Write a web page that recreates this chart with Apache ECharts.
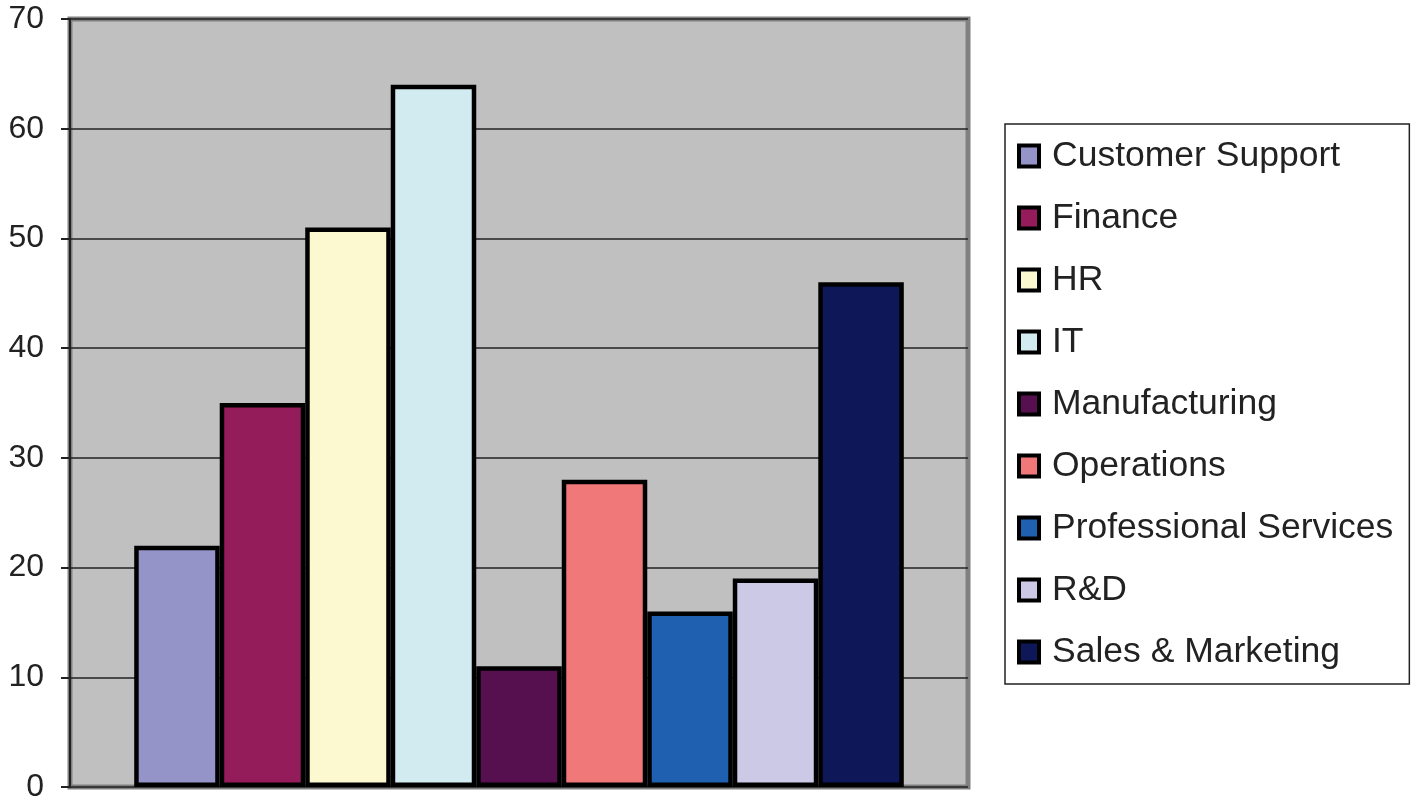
<!DOCTYPE html>
<html>
<head>
<meta charset="utf-8">
<script src="https://cdn.jsdelivr.net/npm/echarts@6/dist/echarts.min.js"></script>
<style>
  html, body { margin: 0; padding: 0; background: #fff; }
  #chartContainer { width: 1412px; height: 803px; }
</style>
</head>
<body>
<div id="chartContainer"></div>
<script>
var DEPARTMENTS = ['Customer Support', 'Finance', 'HR', 'IT', 'Manufacturing',
  'Operations', 'Professional Services', 'R&D', 'Sales & Marketing'];
var COUNTS = [22, 35, 51, 64, 11, 28, 16, 19, 46];
var COLORS = ['#9494C8', '#951C5A', '#FCF8D0', '#D2EBF0', '#561050',
  '#F07878', '#1F60B0', '#CCC9E6', '#0E1859'];
var Y_TICKS = { min: 0, max: 70, interval: 10 };

var FONT = '"Liberation Sans", Arial, sans-serif';

var CHART;
var CHART_OPTION = {
  animation: false,
  backgroundColor: '#ffffff',
  grid: {
    left: 70,
    top: 19,
    right: 444,
    bottom: 14,
    show: true,
    backgroundColor: '#C0C0C0',
    borderColor: '#808080',
    borderWidth: 5
  },
  legend: {
    orient: 'vertical',
    left: 1005,
    top: 124,
    padding: [14, 16, 14, 12],
    borderColor: '#222',
    borderWidth: 1.5,
    backgroundColor: '#fff',
    itemWidth: 20,
    itemHeight: 21,
    itemGap: 26,
    icon: 'rect',
    itemStyle: { borderColor: '#000', borderWidth: 4 },
    textStyle: {
      fontFamily: FONT,
      fontSize: 35.5,
      lineHeight: 36,
      color: '#222',
      padding: [0, 0, 0, 8]
    },
    data: DEPARTMENTS
  },
  xAxis: {
    type: 'category',
    data: [''],
    axisLine: { show: false },
    axisTick: { show: false },
    axisLabel: { show: false }
  },
  yAxis: {
    type: 'value',
    min: Y_TICKS.min,
    max: Y_TICKS.max,
    interval: Y_TICKS.interval,
    axisLine: { show: true, lineStyle: { color: '#222', width: 2 } },
    axisTick: { show: true, length: 9, lineStyle: { color: '#222', width: 2 } },
    axisLabel: {
      margin: 26,
      fontFamily: FONT,
      fontSize: 32,
      color: '#222'
    },
    splitLine: { show: true, lineStyle: { color: '#222', width: 1.5 } }
  },
  series: []
};

DEPARTMENTS.forEach(function (name, i) {
  CHART_OPTION.series.push({
    name: name,
    type: 'bar',
    data: [COUNTS[i]],
    barGap: '0%',
    barCategoryGap: '14.3%',
    itemStyle: {
      color: COLORS[i],
      borderColor: '#000',
      borderWidth: 4.5
    }
  });
});

CHART = echarts.init(document.getElementById('chartContainer'), null, { renderer: 'canvas' });
CHART.setOption(CHART_OPTION);
</script>
</body>
</html>
